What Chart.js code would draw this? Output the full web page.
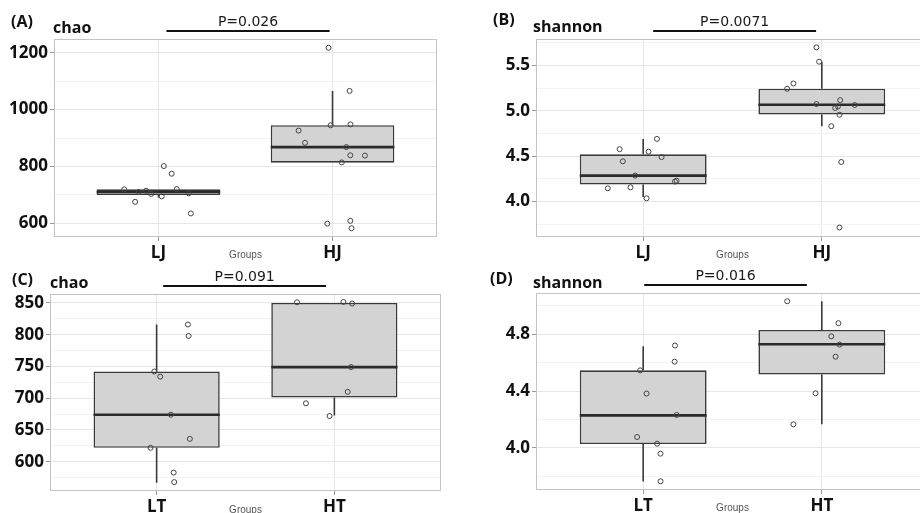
<!DOCTYPE html>
<html>
<head>
<meta charset="utf-8">
<script src="https://cdn.jsdelivr.net/npm/chart.js@4.4.1/dist/chart.umd.min.js"></script>
<style>
  html, body { margin: 0; padding: 0; background: #fff; width: 920px; height: 513px; overflow: hidden; }
  canvas { position: absolute; }
</style>
</head>
<body>
<canvas id="chart-a" width="460" height="262" style="left:0;top:0;"></canvas>
<canvas id="chart-b" width="480" height="262" style="left:460px;top:0;"></canvas>
<canvas id="chart-c" width="460" height="255" style="left:0;top:258px;"></canvas>
<canvas id="chart-d" width="480" height="255" style="left:460px;top:258px;"></canvas>
<script>
// ==================== DATA ====================
const groupsJ = ['LJ', 'HJ'];
const groupsT = ['LT', 'HT'];

// (A) chao, LJ / HJ
const aQ1 = [699, 813];
const aMed = [710, 868];
const aQ3 = [719, 945];
const aLo = [690, 813];
const aHi = [719, 1066];
const aPtsX = [0.803, 0.887, 0.929, 0.958, 0.866, 1.019, 1.031, 1.076, 1.105, 1.174, 1.186,
               1.977, 2.098, 1.989, 2.103, 1.805, 1.842, 2.079, 2.102, 2.186, 2.053, 1.970, 2.102, 2.109];
const aPtsY = [719, 710, 714, 703, 675, 694, 801, 774, 720, 705, 634,
               1218, 1066, 945, 948, 926, 883, 868, 839, 838, 814, 598, 608, 582];
const aTicks = [600, 800, 1000, 1200];
const aMinor = [700, 900, 1100];
const aRange = [551, 1249];
const aP = ['P=0.026', 1.046, 1.983];

// (B) shannon, LJ / HJ
const bQ1 = [4.187, 4.96];
const bMed = [4.286, 5.066];
const bQ3 = [4.52, 5.242];
const bLo = [4.05, 4.83];
const bHi = [4.69, 5.54];
const bPtsX = [0.868, 0.886, 0.802, 0.929, 0.955, 1.019, 1.030, 1.077, 1.103, 1.178, 1.187,
               1.970, 1.985, 1.806, 1.841, 1.970, 2.075, 2.090, 2.103, 2.099, 2.184, 2.053, 2.109, 2.099];
const bPtsY = [4.577, 4.443, 4.146, 4.157, 4.286, 4.036, 4.55, 4.69, 4.49, 4.22, 4.23,
               5.698, 5.54, 5.242, 5.30, 5.074, 5.03, 5.047, 5.117, 4.956, 5.063, 4.83, 4.436, 3.714];
const bTicks = [4.0, 4.5, 5.0, 5.5];
const bMinor = [3.75, 4.25, 4.75, 5.25, 5.75];
const bRange = [3.61, 5.79];
const bP = ['P=0.0071', 1.056, 1.968];

// (C) chao, LT / HT
const cQ1 = [622, 701];
const cMed = [674, 749];
const cQ3 = [742, 850];
const cLo = [567, 673];
const cHi = [816, 850];
const cPtsX = [0.987, 1.02, 1.176, 1.18, 1.08, 1.187, 0.966, 1.096, 1.099,
               1.79, 2.051, 2.10, 2.094, 2.075, 1.84, 1.973];
const cPtsY = [742, 734, 816, 798, 674, 636, 622, 583, 568,
               851, 851.5, 849, 749, 710, 692, 672];
const cTicks = [600, 650, 700, 750, 800, 850];
const cMinor = [575, 625, 675, 725, 775, 825];
const cRange = [554, 864];
const cP = ['P=0.091', 1.037, 1.953];

// (D) shannon, LT / HT
const dQ1 = [4.028, 4.515];
const dMed = [4.229, 4.728];
const dQ3 = [4.545, 4.829];
const dLo = [3.764, 4.166];
const dHi = [4.714, 5.03];
const dPtsX = [0.983, 1.019, 0.966, 1.078, 1.097, 1.097, 1.178, 1.176, 1.187,
               1.806, 2.093, 2.053, 2.099, 2.077, 1.965, 1.841];
const dPtsY = [4.545, 4.382, 4.077, 4.030, 3.96, 3.766, 4.719, 4.606, 4.232,
               5.03, 4.876, 4.784, 4.726, 4.641, 4.384, 4.166];
const dTicks = [4.0, 4.4, 4.8];
const dMinor = [3.8, 4.2, 4.6, 5.0];
const dRange = [3.705, 5.088];
const dP = ['P=0.016', 1.006, 1.916];

// ==================== STYLE ====================
const FONT = '"Open Sans", "Noto Sans", sans-serif';
const P_FONT = '"DejaVu Sans", sans-serif';
const BOX_HALF = 0.355;
const LINE_DARK = '#2b2b2b';

// titles, p-value bracket, "Groups" and panel border
const panelDecor = {
  id: 'panelDecor',
  afterDraw(chart, args, opts) {
    const { ctx, chartArea, scales } = chart;
    const x = scales.x;
    ctx.save();
    // panel border
    ctx.strokeStyle = '#c4c4c4';
    ctx.lineWidth = 1;
    ctx.strokeRect(chartArea.left + 0.5, chartArea.top + 0.5,
                   chartArea.right - chartArea.left - 1, chartArea.bottom - chartArea.top - 1);

    ctx.fillStyle = '#111';
    ctx.textBaseline = 'alphabetic';
    ctx.textAlign = 'left';
    ctx.font = `bold 16px ${FONT}`;
    ctx.fillText(opts.letter, opts.letterPos[0], opts.letterPos[1]);
    ctx.fillText(opts.metric, opts.metricPos[0], opts.metricPos[1]);

    // significance bar
    const x1 = x.getPixelForValue(opts.p[1]);
    const x2 = x.getPixelForValue(opts.p[2]);
    const yLine = chartArea.top - 8;
    ctx.strokeStyle = '#111';
    ctx.lineWidth = 2;
    ctx.beginPath();
    ctx.moveTo(x1, yLine);
    ctx.lineTo(x2, yLine);
    ctx.stroke();
    ctx.textAlign = 'center';
    ctx.font = `14px ${P_FONT}`;
    ctx.fillStyle = '#1a1a1a';
    ctx.fillText(opts.p[0], (x1 + x2) / 2, chartArea.top - 13);

    // x axis title
    ctx.fillStyle = '#555';
    ctx.font = `10px "Liberation Sans", Arial, sans-serif`;
    ctx.textBaseline = 'middle';
    ctx.fillText('Groups', x.getPixelForValue(1.5), chartArea.bottom + opts.groupsDy);
    ctx.restore();
  }
};

function buildDatasets(q1, med, q3, lo, hi, ptsX, ptsY) {
  const medians = [];
  const whiskers = [];
  med.forEach((m, i) => {
    const c = i + 1;
    medians.push({ x: c - BOX_HALF, y: m }, { x: c + BOX_HALF, y: m }, { x: c, y: null });
    if (hi[i] > q3[i]) whiskers.push({ x: c, y: q3[i] }, { x: c, y: hi[i] }, { x: c, y: null });
    if (lo[i] < q1[i]) whiskers.push({ x: c, y: lo[i] }, { x: c, y: q1[i] }, { x: c, y: null });
  });

  return [
    {
      type: 'scatter',
      data: ptsX.map((x, i) => ({ x, y: ptsY[i] })),
      pointRadius: 2.5,
      pointBorderWidth: 1,
      pointBorderColor: '#444',
      pointBackgroundColor: 'rgba(255,255,255,0)',
      order: 0
    },
    {
      type: 'line',
      data: medians,
      borderColor: LINE_DARK,
      borderWidth: 2.6,
      pointRadius: 0,
      spanGaps: false,
      fill: false,
      order: 1
    },
    {
      type: 'line',
      data: whiskers,
      borderColor: '#3a3a3a',
      borderWidth: 1.6,
      pointRadius: 0,
      spanGaps: false,
      fill: false,
      order: 2
    },
    {
      type: 'bar',
      data: q1.map((v, i) => ({ x: i + 1, y: [v, q3[i]] })),
      backgroundColor: '#d3d3d3',
      borderColor: '#3a3a3a',
      borderWidth: 1.6,
      borderSkipped: false,
      categoryPercentage: 1,
      barPercentage: BOX_HALF * 2,
      order: 3
    }
  ];
}

function renderPanel(p) {
  const isMinor = (v) => p.minor.some(m => Math.abs(m - v) < 1e-9);
  new Chart(document.getElementById(p.id), {
    type: 'scatter',
    data: { datasets: buildDatasets(p.q1, p.med, p.q3, p.lo, p.hi, p.ptsX, p.ptsY) },
    options: {
      responsive: false,
      animation: false,
      layout: { padding: { top: p.area.top, right: p.area.right, left: 0, bottom: 0 } },
      plugins: {
        legend: { display: false },
        tooltip: { enabled: false },
        panelDecor: {
          letter: p.letter, metric: p.metric, p: p.p,
          letterPos: p.letterPos, metricPos: p.metricPos, groupsDy: p.groupsDy
        }
      },
      scales: {
        x: {
          type: 'linear',
          min: 0.4,
          max: 2.6,
          offset: false,
          afterBuildTicks: (s) => { s.ticks = [{ value: 1 }, { value: 2 }]; },
          afterFit: (s) => { s.height = p.area.xh; },
          ticks: {
            autoSkip: false,
            maxRotation: 0,
            padding: 2,
            color: '#111',
            font: { family: FONT, weight: 'bold', size: 17 },
            callback: (v) => p.cats[v - 1]
          },
          grid: { offset: false, color: '#e6e6e6', lineWidth: 1, tickLength: 4, tickColor: '#999' },
          border: { display: false }
        },
        y: {
          type: 'linear',
          min: p.range[0],
          max: p.range[1],
          afterBuildTicks: (s) => {
            s.ticks = p.ticks.concat(p.minor).sort((a, b) => a - b).map(v => ({ value: v }));
          },
          afterFit: (s) => { s.width = p.area.left; },
          ticks: {
            autoSkip: false,
            padding: 2,
            color: '#111',
            font: { family: FONT, weight: 'bold', size: 17 },
            callback: (v) => isMinor(v) ? '' : v.toFixed(p.decimals)
          },
          grid: {
            color: (c) => isMinor(c.tick.value) ? '#f3f3f3' : '#e6e6e6',
            tickColor: (c) => isMinor(c.tick.value) ? 'rgba(0,0,0,0)' : '#999',
            tickLength: 4,
            lineWidth: 1
          },
          border: { display: false }
        }
      }
    },
    plugins: [panelDecor]
  });
}

renderPanel({
  id: 'chart-a', cats: groupsJ, letter: '(A)', metric: 'chao', p: aP,
  q1: aQ1, med: aMed, q3: aQ3, lo: aLo, hi: aHi, ptsX: aPtsX, ptsY: aPtsY,
  ticks: aTicks, minor: aMinor, range: aRange, decimals: 0,
  area: { left: 54, top: 39, right: 23, xh: 25 },
  letterPos: [11, 27], metricPos: [53, 33], groupsDy: 18
});
renderPanel({
  id: 'chart-b', cats: groupsJ, letter: '(B)', metric: 'shannon', p: bP,
  q1: bQ1, med: bMed, q3: bQ3, lo: bLo, hi: bHi, ptsX: bPtsX, ptsY: bPtsY,
  ticks: bTicks, minor: bMinor, range: bRange, decimals: 1,
  area: { left: 76, top: 39, right: 11, xh: 25 },
  letterPos: [33, 25], metricPos: [73, 32], groupsDy: 18
});
renderPanel({
  id: 'chart-c', cats: groupsT, letter: '(C)', metric: 'chao', p: cP,
  q1: cQ1, med: cMed, q3: cQ3, lo: cLo, hi: cHi, ptsX: cPtsX, ptsY: cPtsY,
  ticks: cTicks, minor: cMinor, range: cRange, decimals: 0,
  area: { left: 50, top: 36, right: 19, xh: 22 },
  letterPos: [12, 27], metricPos: [50, 30], groupsDy: 19
});
renderPanel({
  id: 'chart-d', cats: groupsT, letter: '(D)', metric: 'shannon', p: dP,
  q1: dQ1, med: dMed, q3: dQ3, lo: dLo, hi: dHi, ptsX: dPtsX, ptsY: dPtsY,
  ticks: dTicks, minor: dMinor, range: dRange, decimals: 1,
  area: { left: 76, top: 35, right: 11, xh: 23 },
  letterPos: [30, 26], metricPos: [73, 30], groupsDy: 18
});
</script>
</body>
</html>
